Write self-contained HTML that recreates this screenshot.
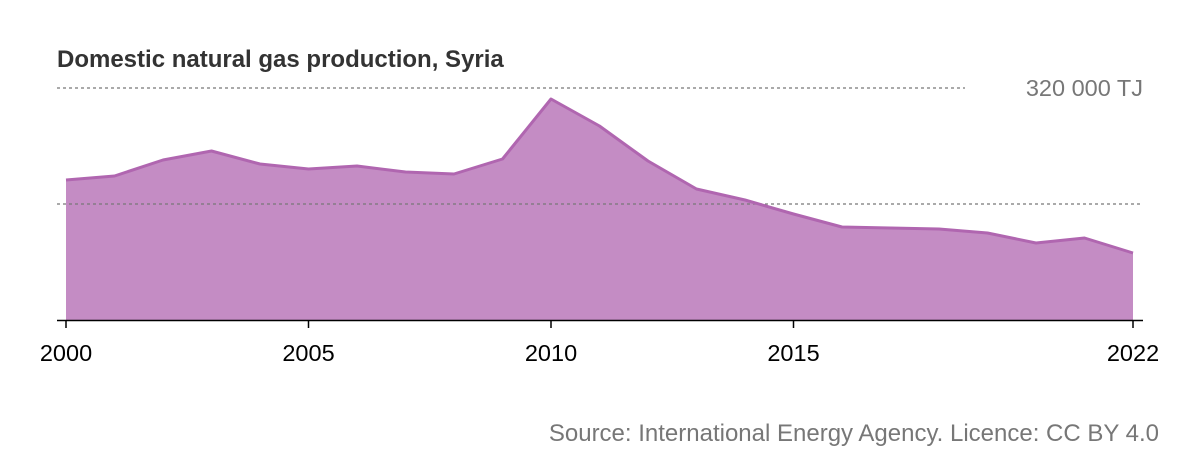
<!DOCTYPE html>
<html><head><meta charset="utf-8"><style>
html,body{margin:0;padding:0;background:#fff;width:1200px;height:460px;overflow:hidden}
svg{display:block;font-family:"Liberation Sans",Arial,sans-serif}
</style></head><body>
<svg width="1200" height="460" viewBox="0 0 1200 460">
<text x="57" y="67" font-size="24" font-weight="bold" fill="#333">Domestic natural gas production, Syria</text>
<line x1="57" y1="88" x2="965" y2="88" stroke="#777" stroke-width="1.3" stroke-dasharray="3,3"/>
<text x="1143" y="96" font-size="23.5" fill="#777" text-anchor="end">320 000 TJ</text>
<path d="M66,320 L66,180 L114.5,176 L163,160 L211.5,151 L260,164 L308.5,169 L357,166 L405.5,172 L454,174 L502.5,159 L551,99 L599.5,126 L648,161 L696.5,189 L745,200 L793.5,214 L842,227 L890.5,228 L939,229 L987.5,233 L1036,243 L1084.5,238 L1133,253 L1133,320 Z" fill="#c48cc4"/>
<line x1="57" y1="204" x2="1143" y2="204" stroke="#777" stroke-width="1.3" stroke-dasharray="3,3"/>
<path d="M66,180 L114.5,176 L163,160 L211.5,151 L260,164 L308.5,169 L357,166 L405.5,172 L454,174 L502.5,159 L551,99 L599.5,126 L648,161 L696.5,189 L745,200 L793.5,214 L842,227 L890.5,228 L939,229 L987.5,233 L1036,243 L1084.5,238 L1133,253" fill="none" stroke="#b066b0" stroke-width="3" stroke-linejoin="round"/>
<line x1="57" y1="320.5" x2="1143" y2="320.5" stroke="#000" stroke-width="1.5"/>
<g stroke="#000" stroke-width="1.5">
<line x1="66" y1="320" x2="66" y2="328"/><line x1="308.5" y1="320" x2="308.5" y2="328"/>
<line x1="551" y1="320" x2="551" y2="328"/><line x1="793.5" y1="320" x2="793.5" y2="328"/>
<line x1="1133" y1="320" x2="1133" y2="328"/></g>
<g font-size="23.5" fill="#000" text-anchor="middle">
<text x="66" y="361">2000</text><text x="308.5" y="361">2005</text><text x="551" y="361">2010</text>
<text x="793.5" y="361">2015</text><text x="1133" y="361">2022</text></g>
<text x="1159" y="441" font-size="24" fill="#777" text-anchor="end">Source: International Energy Agency. Licence: CC BY 4.0</text>
</svg>
</body></html>
